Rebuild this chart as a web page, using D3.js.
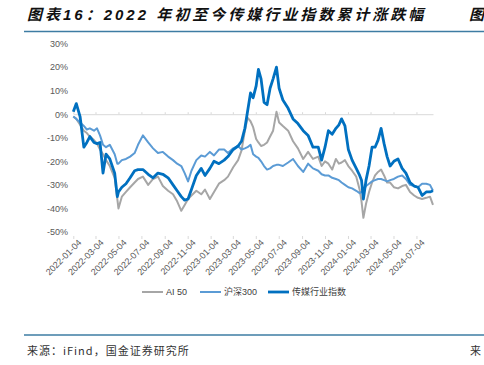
<!DOCTYPE html>
<html>
<head>
<meta charset="utf-8">
<script src="https://cdn.jsdelivr.net/npm/d3@7"></script>
<style>
  body { margin: 0; background: #fff; }
  svg { display: block; }
  .tick text { font-family: "Liberation Sans", Arial, sans-serif; }
</style>
</head>
<body>
<div id="chart"></div>
<script>
// dates shared by the three series
const dates = [
  "2022-01-04","2022-01-12","2022-01-22","2022-02-01","2022-02-09","2022-02-17","2022-02-28","2022-03-08",
  "2022-03-16","2022-03-24","2022-04-01","2022-04-11","2022-04-24","2022-05-01","2022-05-04","2022-05-13",
  "2022-05-24","2022-06-04","2022-06-16","2022-06-25","2022-07-08","2022-07-22","2022-08-04","2022-08-17",
  "2022-08-30","2022-09-13","2022-09-26","2022-10-07","2022-10-18","2022-10-27","2022-11-05","2022-11-14",
  "2022-11-27","2022-12-10","2022-12-20","2023-01-02","2023-01-13","2023-01-26","2023-02-09","2023-02-19",
  "2023-03-05","2023-03-18","2023-03-27","2023-04-05","2023-04-12","2023-04-20","2023-04-27","2023-05-05",
  "2023-05-11","2023-05-18","2023-05-26","2023-06-03","2023-06-11","2023-06-19","2023-06-28","2023-07-05",
  "2023-07-15","2023-07-29","2023-08-11","2023-08-24","2023-09-07","2023-09-20","2023-10-03","2023-10-17",
  "2023-10-26","2023-11-04","2023-11-13","2023-11-23","2023-12-03","2023-12-11","2023-12-18","2023-12-27",
  "2024-01-05","2024-01-15","2024-01-26","2024-02-04","2024-02-09","2024-02-14","2024-02-21","2024-02-29",
  "2024-03-08","2024-03-16","2024-03-24","2024-04-01","2024-04-09","2024-04-17","2024-04-25","2024-05-05",
  "2024-05-16","2024-05-27","2024-06-06","2024-06-17","2024-06-28","2024-07-08","2024-07-19","2024-07-30",
  "2024-08-09","2024-08-17"
];

// AI 50 (%)
const ai50 = [
  -1,-2,-4.5,-7,-8,-9.5,-11,-12.5,
  -15,-17,-19.5,-22,-27,-36,-40,-35,
  -33,-31,-29,-27.5,-26.5,-30,-27.5,-26.5,
  -30.5,-32.5,-34,-37,-41,-38.5,-36,-34.5,
  -32.5,-34,-32,-36,-33,-29.5,-28,-26.5,
  -22.5,-19.5,-15.5,-7,-1.5,-3,-5.5,-10.5,
  -12,-13.5,-13,-12,-9.5,-7,1,-3.5,
  -5,-7,-11.5,-14.5,-19,-16,-19,-18,
  -22,-20,-21,-23.5,-19,-21,-20.5,-19.5,
  -22,-24,-26.5,-32,-37,-44,-38,-33,
  -29,-26,-24.5,-23.5,-26,-29,-29,-31,
  -31.5,-30.5,-30,-33,-34.5,-35.5,-36,-35.5,
  -35,-38.5
];

// 沪深300 (%)
const hs300 = [
  -1,-2,-3.5,-5,-6.5,-6,-7,-6,
  -9,-13,-14,-13,-17,-21,-21,-19.5,
  -19,-18,-16.5,-13,-9,-12,-14.5,-16.5,
  -16,-18,-19.5,-21,-22,-25,-28.5,-24,
  -19.5,-17.5,-18,-16,-17.5,-15,-15,-16.5,
  -14.5,-13.5,-15,-14.5,-14,-13,-17,-18,
  -18.5,-20,-22,-23.5,-23,-22,-21.5,-21.5,
  -22,-20.5,-19,-22,-24.5,-21,-23,-24,
  -25.5,-26,-26,-27,-27.5,-28,-29,-30,
  -31,-31.5,-32.5,-33.5,-33,-32,-30.5,-29.5,
  -28.5,-28,-27.5,-27.5,-28,-28.5,-28,-27.5,
  -26.5,-26,-27.5,-30,-30.5,-31,-29.5,-29.5,
  -30,-32.5
];

// 传媒行业指数 (%)
const media = [
  1,4.5,-1,-14,-12,-9.5,-12,-12.5,
  -12,-25,-17,-19,-25,-35,-33,-31,
  -29.5,-27,-24,-23.5,-23.5,-25.5,-27,-25,
  -25.5,-27,-30,-32.5,-35,-36.5,-36,-32,
  -26,-23,-26,-23,-20,-21,-19.5,-18,
  -15,-13.5,-11.5,-6,1,9,7,12,
  19,15,5,4,11,15,20,11,
  6,2.5,-2,-4,-7,-9,-14,-14,
  -19.5,-14,-7,-8.5,-6,-4.5,-2,-5,
  -15,-19.5,-23,-26,-28,-36,-28,-22,
  -14,-14,-11,-6,-12.5,-18,-22,-20,
  -19,-23,-25,-29,-30.5,-31,-34.5,-33,
  -33,-32.5
];

const yTicks = [-50, -40, -30, -20, -10, 0, 10, 20, 30];
const xTicks = [
  "2022-01-04","2022-03-04","2022-05-04","2022-07-04","2022-09-04","2022-11-04",
  "2023-01-04","2023-03-04","2023-05-04","2023-07-04","2023-09-04","2023-11-04",
  "2024-01-04","2024-03-04","2024-05-04","2024-07-04"
];
const seriesNames = ["AI 50", "沪深300", "传媒行业指数"];
const seriesColors = ["#a6a6a6", "#5b9bd5", "#0070c0"];
const seriesWidths = [2, 2, 2.8];

const parse = d3.timeParse("%Y-%m-%d");
const W = 484, H = 365;

const svg = d3.select("#chart").append("svg")
  .attr("width", W)
  .attr("height", H);

const cjk = "'Liberation Sans', 'Noto Sans CJK SC', sans-serif";

// title + rules
svg.append("text")
  .attr("x", 27)
  .attr("y", 19.5)
  .attr("font-family", cjk)
  .attr("font-size", 15)
  .attr("font-weight", "bold")
  .attr("font-style", "italic")
  .attr("letter-spacing", 3)
  .attr("fill", "#111")
  .text("图表16：2022 年初至今传媒行业指数累计涨跌幅");
svg.append("text")
  .attr("x", 469)
  .attr("y", 19.5)
  .attr("font-family", cjk)
  .attr("font-size", 15)
  .attr("font-weight", "bold")
  .attr("font-style", "italic")
  .attr("fill", "#111")
  .text("图");

svg.append("line")
  .attr("x1", 24).attr("x2", W)
  .attr("y1", 31.5).attr("y2", 31.5)
  .attr("stroke", "#3d7ca3")
  .attr("stroke-width", 1.5);
svg.append("line")
  .attr("x1", 24).attr("x2", W)
  .attr("y1", 335).attr("y2", 335)
  .attr("stroke", "#3d7ca3")
  .attr("stroke-width", 1.5);

svg.append("text")
  .attr("x", 27)
  .attr("y", 355)
  .attr("font-family", "'Noto Sans CJK SC', sans-serif")
  .attr("font-size", 11)
  .attr("letter-spacing", 1)
  .attr("fill", "#333")
  .text("来源：iFind，国金证券研究所");
svg.append("text")
  .attr("x", 470)
  .attr("y", 355)
  .attr("font-family", "'Noto Sans CJK SC', sans-serif")
  .attr("font-size", 11)
  .attr("fill", "#333")
  .text("来");

// scales
const x = d3.scaleTime()
  .domain([parse("2022-01-04"), parse("2024-08-17")])
  .range([73.3, 433]);
const y = d3.scaleLinear()
  .domain([-50, 30])
  .range([232, 43.5]);

// y axis labels
const yAxis = svg.append("g")
  .attr("transform", "translate(70,0)")
  .call(d3.axisLeft(y).tickValues(yTicks).tickSize(0).tickPadding(2).tickFormat(d => d + "%"));
yAxis.select(".domain").remove();
yAxis.selectAll("text")
  .attr("font-size", 9)
  .attr("fill", "#595959");

// zero line with small ticks
const zeroAxis = svg.append("g")
  .attr("transform", `translate(0,${y(0)})`)
  .call(d3.axisTop(x).tickValues(xTicks.map(parse)).tickSize(2).tickSizeOuter(0).tickFormat(""));
zeroAxis.select(".domain").attr("stroke", "#d9d9d9");
zeroAxis.selectAll(".tick line").attr("stroke", "#d9d9d9");

// bottom ticks + rotated labels
const xAxis = svg.append("g")
  .attr("transform", "translate(0,236)")
  .call(d3.axisBottom(x).tickValues(xTicks.map(parse)).tickSize(3).tickFormat(d3.timeFormat("%Y-%m-%d")));
xAxis.select(".domain").remove();
xAxis.selectAll(".tick line").attr("stroke", "#d9d9d9");
xAxis.selectAll("text")
  .attr("font-size", 9)
  .attr("fill", "#595959")
  .attr("text-anchor", "end")
  .attr("transform", "translate(6,5) rotate(-45)")
  .attr("x", 0)
  .attr("y", 0)
  .attr("dy", "0.35em");

// lines
const allSeries = [ai50, hs300, media];
const line = d3.line()
  .x((d, i) => x(parse(dates[i])))
  .y(d => y(d));

allSeries.forEach((vals, k) => {
  svg.append("path")
    .datum(vals)
    .attr("fill", "none")
    .attr("stroke", seriesColors[k])
    .attr("stroke-width", seriesWidths[k])
    .attr("stroke-linejoin", "round")
    .attr("d", line);
});

// legend
const legendX = [142, 200, 268];
const legend = svg.append("g")
  .attr("transform", "translate(0,292)");
seriesNames.forEach((name, k) => {
  legend.append("line")
    .attr("x1", legendX[k]).attr("x2", legendX[k] + 21)
    .attr("y1", 0).attr("y2", 0)
    .attr("stroke", seriesColors[k])
    .attr("stroke-width", seriesWidths[k]);
  legend.append("text")
    .attr("x", legendX[k] + 24)
    .attr("y", 0)
    .attr("dy", "0.35em")
    .attr("font-family", cjk)
    .attr("font-size", 9)
    .attr("fill", "#404040")
    .text(name);
});
</script>
</body>
</html>
